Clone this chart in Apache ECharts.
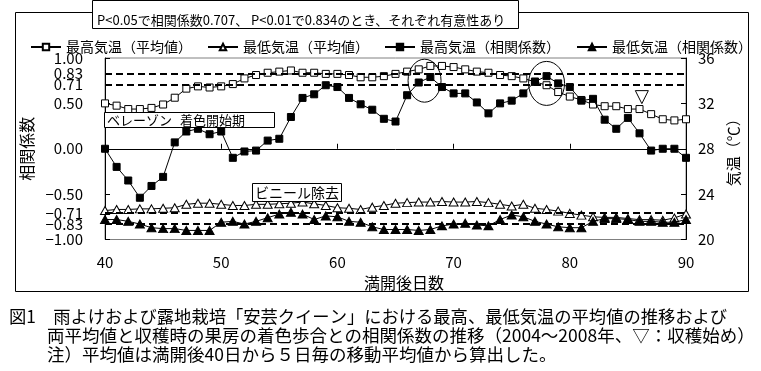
<!DOCTYPE html>
<html>
<head>
<meta charset="utf-8">
<script src="https://cdn.jsdelivr.net/npm/echarts@6/dist/echarts.min.js"></script>
<style>
html,body{margin:0;padding:0;background:#fff;}
#c{width:761px;height:371px;}
</style>
</head>
<body>
<div id="c"></div>
<script>
// ---- data ----
const days = [40,41,42,43,44,45,46,47,48,49,50,51,52,53,54,55,56,57,58,59,60,61,62,63,64,65,66,67,68,69,70,71,72,73,74,75,76,77,78,79,80,81,82,83,84,85,86,87,88,89,90];
const maxTempAvg = [32.0,31.8,31.5,31.5,31.6,31.9,32.5,33.3,33.5,33.4,33.5,33.7,34.2,34.5,34.7,34.8,34.9,34.7,34.7,34.6,34.6,34.5,34.3,34.3,34.4,34.6,34.8,35.0,35.3,35.3,35.2,35.0,34.8,34.7,34.5,34.4,34.2,33.9,33.6,33.0,32.6,32.3,31.9,31.75,31.75,31.5,31.5,31.05,30.6,30.5,30.6];
const minTempAvg = [22.55,22.65,22.65,22.7,22.7,22.75,22.8,23.1,23.2,23.2,23.1,23.0,23.0,23.1,23.1,23.15,23.2,23.3,23.15,23.0,22.8,22.75,22.65,22.85,23.0,23.2,23.25,23.3,23.3,23.35,23.3,23.3,23.35,23.25,23.1,22.95,23.1,22.75,22.65,22.5,22.3,22.15,22.0,21.95,21.95,21.85,21.75,21.75,21.7,21.9,22.25];
const maxTempCorr = [0.00,-0.20,-0.35,-0.54,-0.41,-0.31,0.07,0.19,0.22,0.16,0.19,-0.10,-0.03,-0.02,0.09,0.11,0.35,0.56,0.60,0.70,0.68,0.56,0.49,0.43,0.33,0.30,0.59,0.73,0.79,0.68,0.61,0.61,0.51,0.39,0.50,0.53,0.61,0.74,0.80,0.72,0.68,0.53,0.55,0.32,0.22,0.34,0.17,-0.02,0.00,0.00,-0.10];
const minTempCorr = [-0.78,-0.78,-0.80,-0.83,-0.87,-0.88,-0.88,-0.90,-0.90,-0.90,-0.81,-0.80,-0.83,-0.80,-0.76,-0.72,-0.70,-0.72,-0.78,-0.74,-0.75,-0.80,-0.81,-0.86,-0.89,-0.89,-0.89,-0.90,-0.89,-0.85,-0.83,-0.82,-0.84,-0.85,-0.78,-0.73,-0.75,-0.80,-0.83,-0.86,-0.87,-0.87,-0.80,-0.77,-0.77,-0.78,-0.80,-0.80,-0.81,-0.81,-0.78];
const corrTicks = [1.00,0.83,0.71,0.50,0.00,-0.50,-0.71,-0.83,-1.00];
const sigLines = [0.83,0.71,-0.71,-0.83];
const seriesNames = ['最高気温（平均値）','最低気温（平均値）','最高気温（相関係数）','最低気温（相関係数）'];
const noteText = 'P<0.05で相関係数0.707、 P<0.01で0.834のとき、それぞれ有意性あり';
const captionLines = [
  '図1　雨よけおよび露地栽培「安芸クイーン」における最高、最低気温の平均値の推移および',
  '両平均値と収穫時の果房の着色歩合との相関係数の推移（2004～2008年、▽：収穫始め）',
  '注）平均値は満開後40日から５日毎の移動平均値から算出した。'
];
// annotation anchors in data coordinates
const circle1 = {day: 67.5, corr: 0.75};
const circle2 = {day: 78.0, corr: 0.72};
const harvestStart = {day: 86.2, temp: 32.55};

const FF = '"Noto Sans CJK JP", "Noto Sans", sans-serif';
const pair = arr => days.map((d, i) => [d, arr[i]]);

const chart = echarts.init(document.getElementById('c'), null, {renderer: 'canvas'});

function legendAt(name, left) {
  return {
    data: [name], left: left, top: 35, itemWidth: 30, itemHeight: 8, itemGap: 0,
    textStyle: {fontSize: 14, color: '#000', fontFamily: FF}, selectedMode: false
  };
}

const option = {
  animation: false,
  backgroundColor: '#fff',
  textStyle: {fontFamily: FF},
  legend: [
    legendAt(seriesNames[0], 25),
    legendAt(seriesNames[1], 202),
    legendAt(seriesNames[2], 379),
    legendAt(seriesNames[3], 571)
  ],
  grid: {left: 105, right: 75, top: 58, bottom: 131.5, show: true, borderColor: '#808080', borderWidth: 1, backgroundColor: 'transparent'},
  xAxis: [
    {
      type: 'value', min: 40, max: 90, interval: 10,
      axisLine: {show: false, onZero: false},
      axisTick: {show: false},
      splitLine: {show: false},
      axisLabel: {fontSize: 15, color: '#000', margin: 15, fontFamily: FF}
    },
    {
      type: 'value', min: 40, max: 90, interval: 10, position: 'bottom',
      axisLine: {show: true, onZero: true, onZeroAxisIndex: 0, lineStyle: {color: '#000', width: 1}},
      axisTick: {show: true, inside: true, length: 5, lineStyle: {color: '#000'}},
      axisLabel: {show: false},
      splitLine: {show: false}
    }
  ],
  yAxis: [
    {
      type: 'value', min: -1, max: 1, position: 'left',
      name: '相関係数', nameLocation: 'middle', nameGap: 67,
      nameTextStyle: {fontSize: 16, color: '#000', fontFamily: FF},
      axisLine: {show: true, lineStyle: {color: '#000'}},
      axisTick: {show: true, inside: true, length: 5, customValues: [-1, -0.5, 0, 0.5, 1], lineStyle: {color: '#000'}},
      splitLine: {show: false},
      axisLabel: {
        fontSize: 15, color: '#000', margin: 22, fontFamily: FF,
        customValues: corrTicks,
        formatter: v => (v < 0 ? '\u2212' : '') + Math.abs(v).toFixed(2)
      }
    },
    {
      type: 'value', min: 20, max: 36, interval: 4, position: 'right',
      name: '気温（℃）', nameLocation: 'middle', nameGap: 36,
      nameTextStyle: {fontSize: 15, color: '#000', fontFamily: FF},
      axisLine: {show: true, lineStyle: {color: '#000'}},
      axisTick: {show: true, inside: true, length: 5, lineStyle: {color: '#000'}},
      splitLine: {show: false},
      axisLabel: {fontSize: 15, color: '#000', margin: 12, fontFamily: FF}
    }
  ],
  series: [
    {
      name: seriesNames[0], type: 'line', xAxisIndex: 0, yAxisIndex: 1,
      data: pair(maxTempAvg), symbol: 'rect', symbolSize: 7,
      lineStyle: {color: '#000', width: 1},
      itemStyle: {color: '#fff', borderColor: '#000', borderWidth: 1},
      z: 3
    },
    {
      name: seriesNames[1], type: 'line', xAxisIndex: 0, yAxisIndex: 1,
      data: pair(minTempAvg), symbol: 'triangle', symbolSize: [9, 8],
      lineStyle: {color: '#000', width: 1},
      itemStyle: {color: '#fff', borderColor: '#000', borderWidth: 1},
      z: 3
    },
    {
      name: seriesNames[2], type: 'line', xAxisIndex: 0, yAxisIndex: 0,
      data: pair(maxTempCorr), symbol: 'rect', symbolSize: 7,
      lineStyle: {color: '#000', width: 1},
      itemStyle: {color: '#000', borderColor: '#000', borderWidth: 1},
      z: 4,
      markLine: {
        silent: true, symbol: ['none', 'none'], label: {show: false},
        lineStyle: {color: '#000', width: 2, type: [7, 4]},
        data: sigLines.map(v => ({yAxis: v}))
      }
    },
    {
      name: seriesNames[3], type: 'line', xAxisIndex: 0, yAxisIndex: 0,
      data: pair(minTempCorr), symbol: 'triangle', symbolSize: [9, 8],
      lineStyle: {color: '#000', width: 1},
      itemStyle: {color: '#000', borderColor: '#000', borderWidth: 1},
      z: 4
    }
  ]
};
chart.setOption(option);

// annotations (positions derived from data coordinates where they refer to data)
const c1 = chart.convertToPixel({xAxisIndex: 0, yAxisIndex: 0}, [circle1.day, circle1.corr]);
const c2 = chart.convertToPixel({xAxisIndex: 0, yAxisIndex: 0}, [circle2.day, circle2.corr]);
const hv = chart.convertToPixel({xAxisIndex: 0, yAxisIndex: 1}, [harvestStart.day, harvestStart.temp]);

const graphics = [
  {type: 'rect', z: 0, shape: {x: 15.5, y: 12.5, width: 733, height: 279}, style: {fill: 'none', stroke: '#000', lineWidth: 1}},
  {type: 'rect', z: 10, shape: {x: 92.5, y: 0.5, width: 426, height: 28}, style: {fill: '#fff', stroke: '#000', lineWidth: 1}},
  {type: 'text', z: 11, style: {text: noteText, x: 97, y: 20, font: '13px ' + FF, fill: '#000', verticalAlign: 'middle'}},
  {type: 'rect', z: 10, shape: {x: 104.5, y: 112.5, width: 170, height: 15}, style: {fill: '#fff', stroke: '#000', lineWidth: 1}},
  {type: 'text', z: 11, style: {text: 'ベレーゾン', x: 107, y: 120.5, font: '13px ' + FF, fill: '#000', verticalAlign: 'middle'}},
  {type: 'text', z: 11, style: {text: '着色開始期', x: 180, y: 120.5, font: '13px ' + FF, fill: '#000', verticalAlign: 'middle'}},
  {type: 'rect', z: 10, shape: {x: 252.5, y: 183.5, width: 89, height: 18}, style: {fill: '#fff', stroke: '#000', lineWidth: 1}},
  {type: 'text', z: 11, style: {text: 'ビニール除去', x: 255, y: 193, font: '14px ' + FF, fill: '#000', verticalAlign: 'middle'}},
  {type: 'ellipse', z: 12, shape: {cx: c1[0], cy: c1[1], rx: 16.5, ry: 21.5}, style: {fill: 'none', stroke: '#000', lineWidth: 1}},
  {type: 'ellipse', z: 12, shape: {cx: c2[0], cy: c2[1], rx: 18, ry: 22}, style: {fill: 'none', stroke: '#000', lineWidth: 1}},
  {type: 'polygon', z: 12, shape: {points: [[hv[0] - 6.5, hv[1] - 6.5], [hv[0] + 6.5, hv[1] - 6.5], [hv[0], hv[1] + 6.5]]}, style: {fill: '#fff', stroke: '#000', lineWidth: 1}},
  {type: 'text', z: 11, style: {text: '満開後日数', x: 404, y: 283, font: '16px ' + FF, fill: '#000', align: 'center', verticalAlign: 'middle'}},
  {type: 'text', z: 11, style: {text: captionLines[0], x: 9, y: 316, font: '17.3px ' + FF, fill: '#000', verticalAlign: 'middle'}},
  {type: 'text', z: 11, style: {text: captionLines[1], x: 47, y: 335, font: '17.5px ' + FF, fill: '#000', verticalAlign: 'middle'}},
  {type: 'text', z: 11, style: {text: captionLines[2], x: 47, y: 354, font: '17.5px ' + FF, fill: '#000', verticalAlign: 'middle'}}
];
chart.setOption({graphic: graphics});
</script>
</body>
</html>
